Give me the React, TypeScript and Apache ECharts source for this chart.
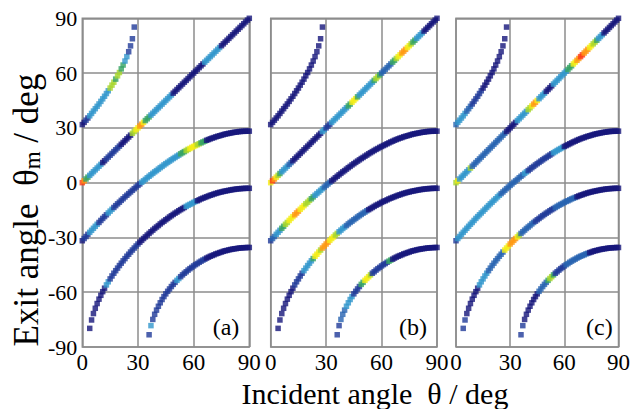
import React, { useEffect, useRef } from 'react';
import * as echarts from 'echarts';

// Incident angle grid (deg)
const incidentAngles = [
  0, 1, 2, 3, 4, 5, 6, 7, 8, 9, 10, 11, 12, 13, 14, 15, 16, 17, 18, 19,
  20, 21, 22, 23, 24, 25, 26, 27, 28, 29, 30, 31, 32, 33, 34, 35, 36, 37, 38, 39,
  40, 41, 42, 43, 44, 45, 46, 47, 48, 49, 50, 51, 52, 53, 54, 55, 56, 57, 58, 59,
  60, 61, 62, 63, 64, 65, 66, 67, 68, 69, 70, 71, 72, 73, 74, 75, 76, 77, 78, 79,
  80, 81, 82, 83, 84, 85, 86, 87, 88, 89, 90,
];

// Exit angles per diffraction order (deg), starting at the given incident angle
const startOrderPlus1 = 0;
const exitOrderPlus1 = [
  31.8, 33.0, 34.2, 35.4, 36.6, 37.9, 39.2, 40.5, 41.8, 43.1, 44.5, 45.9, 47.3, 48.8, 50.3,
  51.8, 53.4, 55.0, 56.7, 58.5, 60.3, 62.3, 64.4, 66.6, 69.0, 71.7, 74.9, 78.8, 85.2,
];
const startOrder0 = 0;
const exitOrder0 = [
  0, 1, 2, 3, 4, 5, 6, 7, 8, 9, 10, 11, 12, 13, 14, 15, 16, 17, 18, 19,
  20, 21, 22, 23, 24, 25, 26, 27, 28, 29, 30, 31, 32, 33, 34, 35, 36, 37, 38, 39,
  40, 41, 42, 43, 44, 45, 46, 47, 48, 49, 50, 51, 52, 53, 54, 55, 56, 57, 58, 59,
  60, 61, 62, 63, 64, 65, 66, 67, 68, 69, 70, 71, 72, 73, 74, 75, 76, 77, 78, 79,
  80, 81, 82, 83, 84, 85, 86, 87, 88, 89, 90,
];
const startOrderMinus1 = 0;
const exitOrderMinus1 = [
  -31.8, -30.6, -29.5, -28.3, -27.2, -26.1, -25.0, -23.9, -22.8, -21.8,
  -20.7, -19.6, -18.6, -17.6, -16.6, -15.6, -14.6, -13.6, -12.6, -11.6,
  -10.7, -9.7, -8.8, -7.8, -6.9, -6.0, -5.1, -4.2, -3.3, -2.4,
  -1.5, -0.7, 0.2, 1.0, 1.8, 2.7, 3.5, 4.3, 5.1, 5.9,
  6.6, 7.4, 8.2, 8.9, 9.7, 10.4, 11.1, 11.8, 12.5, 13.2,
  13.8, 14.5, 15.1, 15.8, 16.4, 17.0, 17.6, 18.2, 18.7, 19.3,
  19.8, 20.3, 20.8, 21.3, 21.8, 22.3, 22.7, 23.2, 23.6, 24.0,
  24.4, 24.7, 25.1, 25.4, 25.7, 26.0, 26.3, 26.6, 26.8, 27.0,
  27.2, 27.4, 27.6, 27.7, 27.9, 28.0, 28.1, 28.1, 28.2, 28.2,
  28.2,
];
const startOrderMinus2 = 4;
const exitOrderMinus2 = [
  -79.8, -75.2, -71.7, -68.8, -66.2, -63.8, -61.7, -59.7, -57.8, -56.0,
  -54.3, -52.7, -51.1, -49.6, -48.2, -46.8, -45.4, -44.1, -42.8, -41.6,
  -40.3, -39.2, -38.0, -36.9, -35.8, -34.7, -33.6, -32.6, -31.6, -30.6,
  -29.7, -28.7, -27.8, -26.9, -26.0, -25.1, -24.3, -23.5, -22.6, -21.8,
  -21.1, -20.3, -19.6, -18.8, -18.1, -17.4, -16.7, -16.1, -15.4, -14.8,
  -14.2, -13.6, -13.0, -12.4, -11.9, -11.4, -10.8, -10.3, -9.9, -9.4,
  -8.9, -8.5, -8.1, -7.7, -7.3, -6.9, -6.6, -6.2, -5.9, -5.6,
  -5.3, -5.1, -4.8, -4.6, -4.4, -4.2, -4.0, -3.8, -3.7, -3.5,
  -3.4, -3.3, -3.2, -3.2, -3.1, -3.1, -3.1,
];
const startOrderMinus3 = 36;
const exitOrderMinus3 = [
  -83.3, -78.3, -74.9, -72.1, -69.8, -67.7, -65.8, -64.0, -62.4, -60.9,
  -59.5, -58.2, -56.9, -55.7, -54.6, -53.5, -52.5, -51.5, -50.5, -49.6,
  -48.8, -47.9, -47.1, -46.4, -45.6, -44.9, -44.3, -43.6, -43.0, -42.4,
  -41.9, -41.3, -40.8, -40.3, -39.9, -39.5, -39.0, -38.7, -38.3, -38.0,
  -37.6, -37.3, -37.1, -36.8, -36.6, -36.4, -36.2, -36.1, -35.9, -35.8,
  -35.7, -35.6, -35.6, -35.5, -35.5,
];

// Intensity level segments [fromDeg, toDeg, level] (level 0 = lowest) per panel, per order (+1, 0, -1, -2, -3)
const intensityPanelA = [
  [[2, 3, 1], [4, 14, 3], [15, 17, 5], [18, 18, 4], [19, 20, 5], [21, 22, 4], [23, 24, 3], [25, 28, 1]],
  [[0, 0, 8], [1, 1, 7], [2, 3, 4], [4, 10, 3], [13, 20, 1], [27, 28, 5], [29, 30, 6], [31, 32, 7], [33, 33, 6], [34, 36, 4], [37, 48, 3], [66, 74, 3]],
  [[1, 3, 1], [4, 8, 3], [9, 13, 1], [14, 16, 3], [17, 31, 1], [32, 52, 3], [53, 55, 4], [56, 57, 5], [58, 61, 6], [62, 63, 5], [64, 66, 4]],
  [[13, 14, 3], [15, 30, 1], [56, 61, 3]],
  [[36, 36, 1], [37, 37, 3], [38, 50, 1], [51, 52, 3], [53, 66, 1]],
];
const intensityPanelB = [
  [],
  [[0, 0, 6], [1, 1, 8], [2, 2, 7], [3, 3, 6], [4, 4, 5], [5, 5, 4], [6, 9, 3], [10, 11, 2], [28, 29, 3], [30, 32, 1], [33, 41, 3], [42, 43, 4], [44, 46, 6], [47, 47, 4], [48, 55, 3], [56, 56, 4], [57, 58, 5], [59, 59, 4], [60, 65, 2], [66, 67, 4], [68, 68, 5], [69, 70, 6], [71, 73, 7], [74, 75, 6], [76, 76, 5], [77, 78, 4], [79, 82, 3]],
  [[0, 0, 1], [1, 2, 2], [3, 5, 3], [6, 7, 4], [8, 9, 5], [10, 12, 6], [13, 15, 7], [16, 18, 6], [19, 21, 5], [22, 23, 4], [24, 28, 3], [29, 32, 2]],
  [[13, 17, 1], [18, 22, 3], [23, 23, 4], [24, 26, 6], [27, 27, 5], [28, 31, 7], [32, 34, 6], [35, 36, 5], [37, 40, 3], [41, 52, 2]],
  [[36, 37, 1], [38, 40, 2], [41, 44, 3], [45, 48, 1], [49, 50, 4], [51, 53, 6], [54, 54, 5], [55, 63, 1], [64, 65, 4]],
];
const intensityPanelC = [
  [[0, 0, 2], [1, 5, 3], [6, 8, 2], [9, 14, 1]],
  [[0, 0, 5], [1, 1, 6], [2, 7, 3], [8, 8, 5], [9, 27, 2], [34, 39, 3], [40, 41, 5], [42, 42, 6], [43, 44, 7], [45, 45, 6], [46, 49, 3], [54, 61, 3], [62, 64, 4], [65, 66, 6], [67, 68, 7], [69, 70, 8], [71, 73, 7], [74, 75, 6], [76, 77, 5], [78, 78, 4], [79, 81, 3]],
  [[0, 0, 1], [1, 24, 3], [25, 37, 2], [38, 39, 3], [40, 53, 1], [54, 59, 3]],
  [[4, 5, 1], [13, 17, 3], [18, 26, 2], [27, 29, 6], [30, 33, 7], [34, 34, 6], [35, 35, 5], [36, 43, 2], [44, 54, 1], [55, 66, 2]],
  [[36, 37, 1], [46, 50, 2], [51, 51, 4], [52, 53, 5], [54, 54, 4], [55, 60, 1], [61, 73, 2]],
];

const panelLabels = ['(a)', '(b)', '(c)'];
const xTicks = [0, 30, 60, 90];

const levelColors = ['#15157a', '#1f3a98', '#2763b0', '#3196cc', '#35a263', '#a6d62a', '#f4ee14', '#ff9810', '#ff3a12'];

const orders = [
  { start: startOrderPlus1, exit: exitOrderPlus1 },
  { start: startOrder0, exit: exitOrder0 },
  { start: startOrderMinus1, exit: exitOrderMinus1 },
  { start: startOrderMinus2, exit: exitOrderMinus2 },
  { start: startOrderMinus3, exit: exitOrderMinus3 },
];
const panelIntensities = [intensityPanelA, intensityPanelB, intensityPanelC];

const levelAt = (segs: number[][], th: number) => {
  for (const s of segs) if (th >= s[0] && th <= s[1]) return s[2];
  return 0;
};

const FONT = '"Liberation Serif", "Times New Roman", serif';
const GRIDS = [
  { left: 82.3, width: 167 },
  { left: 270.7, width: 166.3 },
  { left: 456, width: 166.7 },
];
const TOP = 18.3;
const HEIGHT = 328.7;
const GRID_COLOR = '#8c8c8c';

export default function App() {
  const ref = useRef<HTMLDivElement>(null);
  useEffect(() => {
    if (!ref.current) return;
    const chart = echarts.init(ref.current, undefined, { renderer: 'svg' });
    const series: any[] = [];
    panelIntensities.forEach((panel, p) => {
      orders.forEach((o, k) => {
        series.push({
          type: 'scatter',
          xAxisIndex: p,
          yAxisIndex: p,
          symbol: 'rect',
          symbolSize: 5.5,
          silent: true,
          data: o.exit.map((y, i) => {
            const th = incidentAngles[o.start + i];
            return [th, y, levelAt(panel[k] as number[][], th)];
          }),
          itemStyle: { color: (prm: any) => levelColors[prm.data[2]] },
        });
      });
    });
    const option: any = {
      animation: false,
      backgroundColor: '#fff',
      grid: GRIDS.map((g) => ({
        left: g.left, width: g.width, top: TOP, height: HEIGHT,
        show: true, borderColor: GRID_COLOR, borderWidth: 1.5, backgroundColor: '#fff',
      })),
      xAxis: GRIDS.map((_, p) => ({
        type: 'value', gridIndex: p, min: xTicks[0], max: xTicks[xTicks.length - 1], interval: 30,
        axisLine: { show: false }, axisTick: { show: false },
        splitLine: { show: true, lineStyle: { color: GRID_COLOR, width: 1.5 } },
        axisLabel: { fontFamily: FONT, fontSize: 23, color: '#000', margin: 4 },
      })),
      yAxis: GRIDS.map((_, p) => ({
        type: 'value', gridIndex: p, min: -90, max: 90, interval: 30,
        axisLine: { show: false }, axisTick: { show: false },
        splitLine: { show: true, lineStyle: { color: GRID_COLOR, width: 1.5 } },
        axisLabel: { show: p === 0, fontFamily: FONT, fontSize: 22, color: '#000', margin: 5 },
      })),
      graphic: [
        ...GRIDS.map((g, p) => ({
          type: 'text', x: g.left + g.width - 10, y: 327, z: 100,
          style: { text: panelLabels[p], font: `24px ${FONT}`, fill: '#000', align: 'right', verticalAlign: 'middle' },
        })),
        {
          type: 'text', x: 375, y: 393,
          style: { text: 'Incident angle  θ / deg', font: `30px ${FONT}`, fill: '#000', align: 'center', verticalAlign: 'middle' },
        },
        {
          type: 'text', x: 26, y: 210, rotation: Math.PI / 2,
          style: {
            text: '{a|Exit angle  θ}{s|m}{a| / deg}',
            align: 'center', verticalAlign: 'middle', fill: '#000',
            rich: {
              a: { fontFamily: FONT, fontSize: 35, fill: '#000' },
              s: { fontFamily: FONT, fontSize: 23, fill: '#000', padding: [12, 0, 0, 0] },
            },
          },
        },
      ],
      series,
    };
    chart.setOption(option);
    return () => chart.dispose();
  }, []);
  return <div ref={ref} style={{ position: 'absolute', left: 0, top: 0, width: 633, height: 409 }} />;
}
